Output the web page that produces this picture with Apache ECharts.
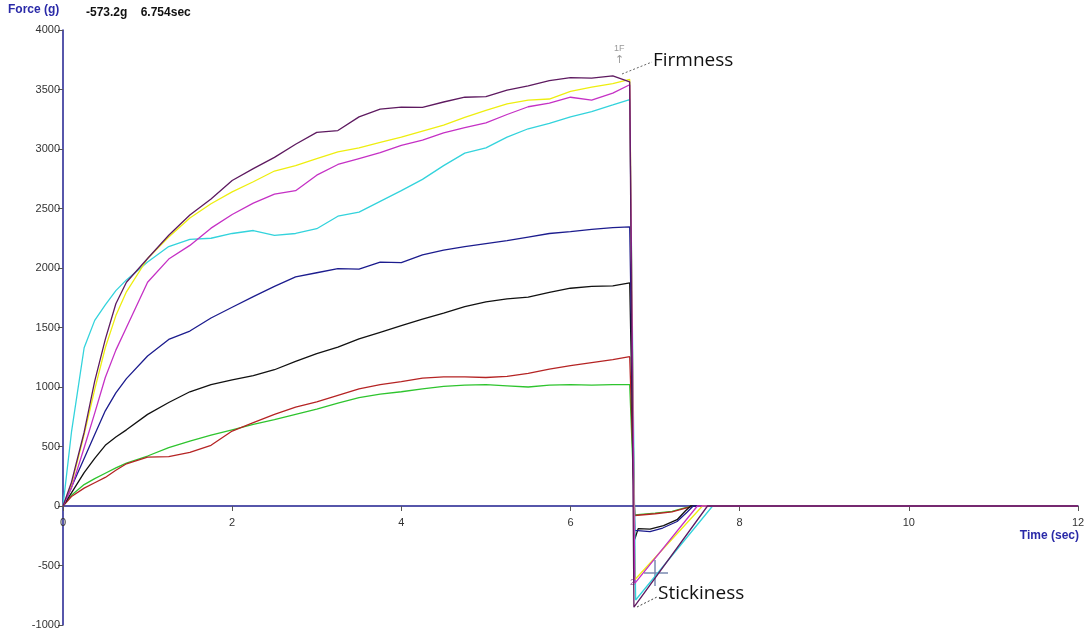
<!DOCTYPE html>
<html>
<head>
<meta charset="utf-8">
<script src="https://cdn.jsdelivr.net/npm/echarts@6/dist/echarts.min.js"></script>
<style>
  html, body { margin: 0; padding: 0; background: #fff; }
  #chart { width: 1089px; height: 637px; }
</style>
</head>
<body>
<div id="chart"></div>
<script>
// time grid (sec) for the compression part, shared by all curves
var riseTime = [0, 0.1, 0.25, 0.375, 0.5, 0.625, 0.75, 1, 1.25, 1.5, 1.75, 2, 2.25, 2.5, 2.75, 3, 3.25, 3.5, 3.75, 4, 4.25, 4.5, 4.75, 5, 5.25, 5.5, 5.75, 6, 6.25, 6.5, 6.7];

// force (g) at each riseTime
var purple  = [0, 200, 620, 1050, 1400, 1700, 1880, 2080, 2275, 2445, 2580, 2735, 2835, 2930, 3040, 3140, 3155, 3270, 3335, 3352, 3350, 3395, 3435, 3440, 3495, 3530, 3575, 3600, 3595, 3615, 3565];
var yellow  = [0, 180, 600, 980, 1330, 1600, 1800, 2080, 2260, 2420, 2540, 2640, 2725, 2815, 2860, 2920, 2975, 3010, 3055, 3100, 3150, 3200, 3265, 3325, 3380, 3410, 3420, 3485, 3520, 3550, 3585];
var magenta = [0, 150, 490, 780, 1080, 1310, 1500, 1880, 2075, 2190, 2335, 2450, 2545, 2620, 2650, 2780, 2870, 2920, 2970, 3030, 3075, 3135, 3180, 3220, 3290, 3355, 3385, 3435, 3410, 3470, 3540];
var cyan    = [0, 620, 1330, 1560, 1690, 1810, 1900, 2050, 2180, 2240, 2250, 2290, 2315, 2275, 2290, 2330, 2435, 2470, 2560, 2650, 2745, 2860, 2965, 3010, 3100, 3170, 3215, 3270, 3315, 3370, 3415];
var navy    = [0, 160, 400, 600, 800, 950, 1070, 1260, 1400, 1470, 1580, 1670, 1760, 1845, 1925, 1960, 1995, 1990, 2050, 2045, 2110, 2150, 2180, 2205, 2230, 2260, 2290, 2305, 2325, 2340, 2345];
var black   = [0, 110, 280, 400, 510, 580, 640, 770, 870, 960, 1020, 1060, 1095, 1145, 1215, 1280, 1335, 1405, 1460, 1515, 1570, 1620, 1675, 1715, 1740, 1755, 1795, 1830, 1845, 1850, 1875];
var red     = [0, 80, 150, 195, 240, 300, 355, 410, 415, 450, 510, 630, 700, 770, 830, 875, 930, 985, 1020, 1045, 1075, 1085, 1085, 1080, 1090, 1115, 1150, 1180, 1205, 1230, 1255];
var green   = [0, 90, 180, 230, 275, 320, 360, 420, 490, 545, 595, 640, 685, 725, 770, 815, 865, 910, 940, 960, 985, 1005, 1015, 1020, 1010, 1000, 1015, 1020, 1015, 1020, 1020];

// withdrawal part: [time, force] after the probe reverses
var purpleTail  = [[6.75, -850], [7.62, 0], [12, 0]];
var yellowTail  = [[6.76, -620], [7.56, 0], [12, 0]];
var magentaTail = [[6.76, -650], [7.5, 0], [12, 0]];
var cyanTail    = [[6.77, -790], [7.68, 0], [12, 0]];
var navyTail    = [[6.76, -205], [6.94, -215], [7.09, -185], [7.26, -130], [7.38, -50], [7.45, 0], [12, 0]];
var blackTail   = [[6.76, -280], [6.8, -190], [6.94, -195], [7.1, -165], [7.26, -115], [7.36, -40], [7.42, 0], [12, 0]];
var redTail     = [[6.76, -80], [7.0, -65], [7.2, -50], [7.35, -20], [7.45, 0], [12, 0]];
var greenTail   = [[6.76, -75], [7.0, -60], [7.2, -45], [7.35, -15], [7.45, 0], [12, 0]];

var yTicks = [-1000, -500, 0, 500, 1000, 1500, 2000, 2500, 3000, 3500, 4000];
var xTicks = [0, 2, 4, 6, 8, 10, 12];

var curves = [
  { vals: green,   tail: greenTail,   color: '#2ec42e' },
  { vals: red,     tail: redTail,     color: '#b52424' },
  { vals: black,   tail: blackTail,   color: '#111111' },
  { vals: navy,    tail: navyTail,    color: '#1c1c8e' },
  { vals: cyan,    tail: cyanTail,    color: '#33d3dc' },
  { vals: yellow,  tail: yellowTail,  color: '#eeee10' },
  { vals: magenta, tail: magentaTail, color: '#c531c5' },
  { vals: purple,  tail: purpleTail,  color: '#5e1a60' }
];

function build(vals, tail) {
  var pts = riseTime.map(function (t, i) { return [t, vals[i]]; });
  return pts.concat(tail);
}

var W = 1089, H = 637;
var gridTop = 30, gridBottom = 12;
var yMin = yTicks[0], yMax = yTicks[yTicks.length - 1];
// lift the time axis (line, ticks and labels) up to force = 0
var zeroOffset = -(H - gridTop - gridBottom) * (0 - yMin) / (yMax - yMin);

var myChart = echarts.init(document.getElementById('chart'));
var axisBlue = '#1f1f8f';

var option = {
  animation: false,
  backgroundColor: '#fff',
  grid: { left: 63, right: 11, top: gridTop, bottom: gridBottom, containLabel: false, outerBoundsMode: 'none' },
  xAxis: {
    type: 'value',
    min: 0, max: 12, interval: 2,
    offset: zeroOffset,
    axisLine: { onZero: false, lineStyle: { color: axisBlue, width: 1.5 } },
    axisTick: { show: true, inside: false, length: 5, lineStyle: { color: '#555' } },
    axisLabel: {
      color: '#333', fontFamily: 'Liberation Sans', fontSize: 11, margin: 11,
      formatter: function (v) { return xTicks.indexOf(v) >= 0 ? String(v) : ''; }
    },
    splitLine: { show: false }
  },
  yAxis: {
    type: 'value',
    min: yMin, max: yMax, interval: 500,
    axisLine: { show: true, lineStyle: { color: axisBlue, width: 1.5 } },
    axisTick: { show: true, length: 5, lineStyle: { color: '#555' } },
    axisLabel: {
      color: '#333', fontFamily: 'Liberation Sans', fontSize: 11, margin: 3,
      formatter: function (v) { return yTicks.indexOf(v) >= 0 ? String(v) : ''; }
    },
    splitLine: { show: false }
  },
  series: curves.map(function (c) {
    return {
      type: 'line',
      data: build(c.vals, c.tail),
      showSymbol: false,
      lineStyle: { color: c.color, width: 1.3 },
      itemStyle: { color: c.color }
    };
  }),
  graphic: [
    { type: 'text', left: 8, top: 4, style: { text: 'Force (g)', fill: '#2a2aa8', font: 'bold 12px "Liberation Sans"' } },
    { type: 'text', left: 86, top: 7, style: { text: '-573.2g    6.754sec', fill: '#111', font: 'bold 12px "Liberation Sans"' } },
    { type: 'text', right: 10, top: 530, style: { text: 'Time (sec)', fill: '#2a2aa8', font: 'bold 12px "Liberation Sans"' } },
    // firmness marker
    { type: 'text', left: 614, top: 44, style: { text: '1F', fill: '#999', font: '9px "Liberation Sans"' } },
    { type: 'text', left: 615, top: 55, style: { text: '↑', fill: '#999', font: '11px "DejaVu Sans"' } },
    { type: 'polyline', shape: { points: [[622, 74], [652, 62]] }, style: { stroke: '#666', lineDash: [2, 2], lineWidth: 1 } },
    { type: 'text', left: 653, top: 51, style: { text: 'Firmness', fill: '#111', font: '19px "Open Sans"' } },
    // stickiness marker
    { type: 'polyline', shape: { points: [[644, 573], [668, 573]] }, style: { stroke: '#7a8ab0', lineWidth: 1.5 } },
    { type: 'polyline', shape: { points: [[655, 560], [655, 586]] }, style: { stroke: '#7a8ab0', lineWidth: 1.5 } },
    { type: 'text', left: 630, top: 578, style: { text: '2', fill: '#a060a0', font: '9px "Liberation Sans"' } },
    { type: 'polyline', shape: { points: [[637, 607], [657, 597]] }, style: { stroke: '#444', lineDash: [2, 2], lineWidth: 1 } },
    { type: 'text', left: 658, top: 584, style: { text: 'Stickiness', fill: '#111', font: '19px "Open Sans"' } }
  ]
};

myChart.setOption(option);
</script>
</body>
</html>
